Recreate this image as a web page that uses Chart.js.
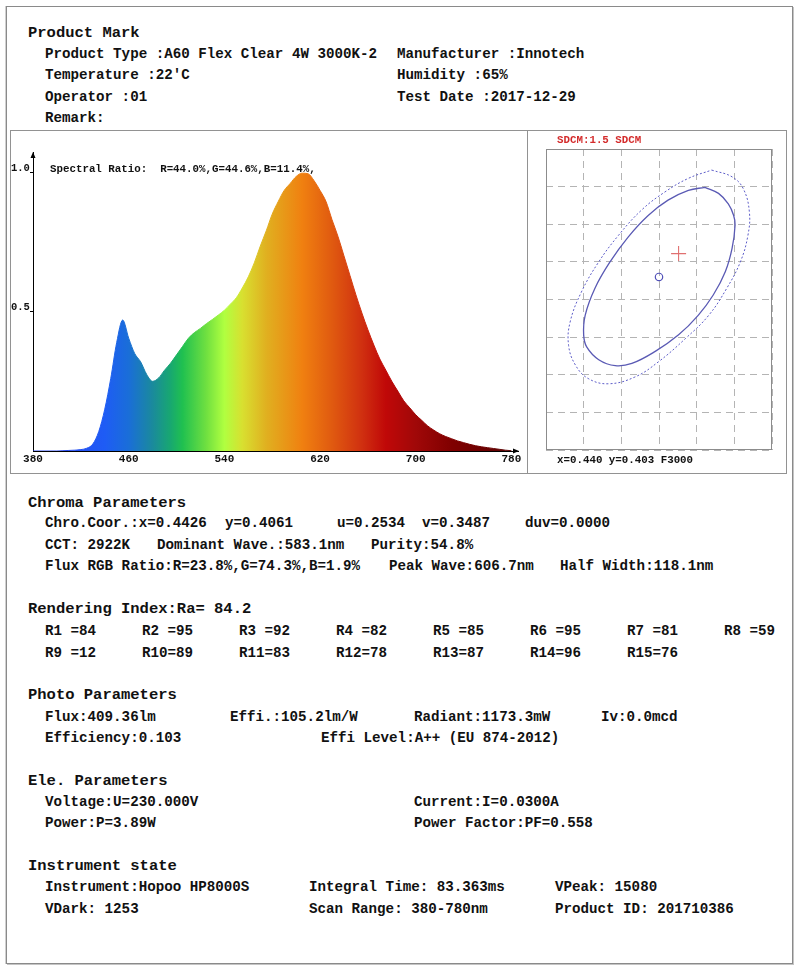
<!DOCTYPE html>
<html>
<head>
<meta charset="utf-8">
<script src="https://cdn.jsdelivr.net/npm/chart.js@4.4.0/dist/chart.umd.min.js"></script>
<style>
  html, body { margin: 0; padding: 0; background: #fff; }
  body { width: 800px; height: 971px; position: relative; overflow: hidden;
         font-family: "Liberation Mono", "DejaVu Sans Mono", monospace; font-weight: bold; color: #111; }
  .page { position: absolute; left: 6px; top: 6px; width: 785px; height: 956px;
          border: 1px solid #8a8a8a; box-shadow: 1px 1px 0 #c4c4c4, -1px 0 0 #d0d0d0; }
  .t { position: absolute; font-size: 14.2px; line-height: 16px; height: 16px; white-space: pre; }
  .h { font-size: 15.5px; }
  .s { font-size: 10.8px; line-height: 12px; height: 12px; }
  .panel { position: absolute; left: 10px; top: 130px; width: 775px; height: 342px; border: 1px solid #929292; }
  .divider { position: absolute; left: 527px; top: 130px; width: 1px; height: 343px; background: #929292; }
  #spectrum { position: absolute; left: 11px; top: 131px; }
  #sdcm { position: absolute; left: 528px; top: 132px; }
</style>
</head>
<body>
<div class="page"></div>
<div class="panel"></div>
<div class="divider"></div>
<div id="spectrum-wrap"><canvas id="spectrum" width="515" height="340" style="width:515px;height:340px"></canvas></div>
<div id="sdcm-wrap"><canvas id="sdcm" width="256" height="339" style="width:256px;height:339px"></canvas></div>
<div id="texts"></div>
<script>
// spectrum (relative intensity)
const wavelengths = [380, 385, 390, 395, 400, 405, 410, 415, 420, 425, 430, 435, 440, 445, 450, 455,
  460, 465, 470, 475, 480, 485, 490, 495, 500, 505, 510, 515, 520, 525, 530, 535, 540, 545, 550,
  555, 560, 565, 570, 575, 580, 585, 590, 595, 600, 605, 610, 615, 620, 625, 630, 635, 640, 645,
  650, 655, 660, 665, 670, 675, 680, 685, 690, 695, 700, 705, 710, 715, 720, 725, 730, 735, 740,
  745, 750, 755, 760, 765, 770, 775, 780];
const intensity = [0, 0, 0, 0, 0, 0.001, 0.002, 0.003, 0.005, 0.01, 0.025, 0.07, 0.15, 0.26, 0.39, 0.47,
  0.405, 0.35, 0.32, 0.275, 0.25, 0.262, 0.29, 0.315, 0.345, 0.375, 0.405, 0.425, 0.44, 0.457, 0.472,
  0.488, 0.505, 0.527, 0.55, 0.585, 0.625, 0.675, 0.735, 0.79, 0.85, 0.895, 0.935, 0.96, 0.985, 0.997,
  0.995, 0.97, 0.935, 0.895, 0.83, 0.77, 0.7, 0.63, 0.56, 0.495, 0.435, 0.38, 0.33, 0.29, 0.25, 0.215,
  0.18, 0.155, 0.13, 0.11, 0.09, 0.075, 0.062, 0.052, 0.044, 0.036, 0.03, 0.024, 0.019, 0.015, 0.012,
  0.009, 0.006, 0.003, 0.001];
const xTicks = [380, 460, 540, 620, 700, 780];
const yTicks = [0.5, 1.0];

// SDCM plot (CIE x, y)
const gridX = [0.425, 0.430, 0.435, 0.440, 0.445, 0.450, 0.455];
const gridY = [0.380, 0.385, 0.390, 0.395, 0.400, 0.405, 0.410, 0.415, 0.420];
const innerEllX = [0.4461, 0.4479, 0.4492, 0.4499, 0.4501, 0.4497, 0.4488, 0.4472, 0.4452, 0.4426, 0.4395, 0.4364,
  0.4342, 0.4320, 0.4304, 0.4300, 0.4302, 0.4315, 0.4335, 0.4359, 0.4386, 0.4412, 0.4439, 0.4461];
const innerEllY = [0.4149, 0.4141, 0.4127, 0.4112, 0.4099, 0.4068, 0.4037, 0.4006, 0.3979, 0.3953, 0.3931, 0.3915,
  0.3912, 0.3920, 0.3937, 0.3953, 0.3979, 0.4015, 0.4050, 0.4083, 0.4112, 0.4132, 0.4145, 0.4149];
const outerEllX = [0.4470, 0.4497, 0.4512, 0.4520, 0.4518, 0.4508, 0.4490, 0.4466, 0.4435, 0.4399, 0.4368, 0.4333,
  0.4306, 0.4289, 0.4280, 0.4282, 0.4297, 0.4320, 0.4346, 0.4377, 0.4408, 0.4439, 0.4470];
const outerEllY = [0.4172, 0.4163, 0.4147, 0.4116, 0.4085, 0.4050, 0.4015, 0.3979, 0.3948, 0.3917, 0.3897, 0.3888,
  0.3895, 0.3913, 0.3939, 0.3970, 0.4010, 0.4050, 0.4085, 0.4119, 0.4143, 0.4161, 0.4172];
const centerPoint = [0.440, 0.403];
const measuredPoint = [0.4426, 0.4061];

const renderIndex = [84, 95, 92, 82, 85, 95, 81, 59, 12, 89, 83, 78, 87, 96, 76];

// spectrum colours by wavelength
const gradStops = [400, 440, 460, 480, 495, 505, 525, 540, 555, 575, 605, 630, 655, 675, 700, 730, 760, 780];
const gradColors = ["#2a48f0", "#1e5cf5", "#1a6ed8", "#1a8a9c", "#18a870", "#20c050", "#70e040", "#b0ff40",
  "#d8e030", "#e0b020", "#f08010", "#e05a10", "#d03010", "#c00808", "#a00808", "#800000", "#6a0000", "#5a0a0a"];

const mono = "'Liberation Mono', 'DejaVu Sans Mono', monospace";

// ---- text blocks ----
const texts = [
  [28, 33, "Product Mark", "h"],
  [45, 54, "Product Type :A60 Flex Clear 4W 3000K-2"],
  [397, 54, "Manufacturer :Innotech"],
  [45, 75, "Temperature :22'C"],
  [397, 75, "Humidity :65%"],
  [45, 97, "Operator :01"],
  [397, 97, "Test Date :2017-12-29"],
  [45, 118, "Remark:"],
  [50, 169, "Spectral Ratio:  R=44.0%,G=44.6%,B=11.4%,", "s"],
  [557, 140, "SDCM:1.5 SDCM", "s red"],
  [557, 460, "x=0.440 y=0.403 F3000", "s"],
  [28, 503, "Chroma Parameters", "h"],
  [45, 523, "Chro.Coor.:x=0.4426"],
  [225, 523, "y=0.4061"],
  [337, 523, "u=0.2534"],
  [422, 523, "v=0.3487"],
  [525, 523, "duv=0.0000"],
  [45, 545, "CCT: 2922K"],
  [157, 545, "Dominant Wave.:583.1nm"],
  [371, 545, "Purity:54.8%"],
  [45, 566, "Flux RGB Ratio:R=23.8%,G=74.3%,B=1.9%"],
  [389, 566, "Peak Wave:606.7nm"],
  [560, 566, "Half Width:118.1nm"],
  [28, 609, "Rendering Index:Ra= 84.2", "h"],
  [28, 695, "Photo Parameters", "h"],
  [45, 717, "Flux:409.36lm"],
  [230, 717, "Effi.:105.2lm/W"],
  [414, 717, "Radiant:1173.3mW"],
  [601, 717, "Iv:0.0mcd"],
  [45, 738, "Efficiency:0.103"],
  [321, 738, "Effi Level:A++ (EU 874-2012)"],
  [28, 781, "Ele. Parameters", "h"],
  [45, 802, "Voltage:U=230.000V"],
  [414, 802, "Current:I=0.0300A"],
  [45, 823, "Power:P=3.89W"],
  [414, 823, "Power Factor:PF=0.558"],
  [28, 866, "Instrument state", "h"],
  [45, 887, "Instrument:Hopoo HP8000S"],
  [309, 887, "Integral Time: 83.363ms"],
  [555, 887, "VPeak: 15080"],
  [45, 909, "VDark: 1253"],
  [309, 909, "Scan Range: 380-780nm"],
  [555, 909, "Product ID: 201710386"]
];
renderIndex.forEach((v, i) => {
  const name = "R" + (i + 1);
  const label = (name.length < 3 ? name + " " : name) + "=" + v;
  texts.push([45 + 97 * (i % 8), i < 8 ? 631 : 653, label]);
});

const holder = document.getElementById("texts");
texts.forEach(([x, y, str, cls]) => {
  const d = document.createElement("div");
  d.className = "t " + (cls || "");
  d.textContent = str;
  const h = (cls || "").includes("s") ? 12 : 16;
  d.style.left = x + "px";
  d.style.top = (y - h / 2) + "px";
  if ((cls || "").includes("red")) d.style.color = "#d42c2c";
  holder.appendChild(d);
});

// ---- spectrum chart ----
const axisArrows = {
  id: "axisArrows",
  afterDraw(chart) {
    const { ctx, chartArea: a } = chart;
    ctx.save();
    ctx.fillStyle = "#000";
    ctx.beginPath();
    ctx.moveTo(a.left, a.top);
    ctx.lineTo(a.left - 2.5, a.top + 6);
    ctx.lineTo(a.left + 2.5, a.top + 6);
    ctx.fill();
    ctx.beginPath();
    ctx.moveTo(a.right + 1, a.bottom);
    ctx.lineTo(a.right - 5, a.bottom - 2.5);
    ctx.lineTo(a.right - 5, a.bottom + 2.5);
    ctx.fill();
    ctx.restore();
  }
};

function spectrumFill(context) {
  const chart = context.chart;
  const { ctx, chartArea, scales } = chart;
  if (!chartArea) return "#f08010";
  const x0 = scales.x.getPixelForValue(380);
  const x1 = scales.x.getPixelForValue(780);
  const g = ctx.createLinearGradient(x0, 0, x1, 0);
  gradStops.forEach((w, i) => g.addColorStop((w - 380) / 400, gradColors[i]));
  return g;
}

new Chart(document.getElementById("spectrum"), {
  type: "line",
  data: {
    datasets: [{
      data: wavelengths.map((w, i) => ({ x: w, y: intensity[i] })),
      fill: "origin",
      backgroundColor: spectrumFill,
      borderColor: spectrumFill,
      borderWidth: 1,
      pointRadius: 0,
      tension: 0.4,
      cubicInterpolationMode: "monotone"
    }]
  },
  options: {
    responsive: false,
    animation: false,
    devicePixelRatio: 1,
    layout: { padding: { top: 21, right: 8, left: 0, bottom: 0 } },
    plugins: { legend: { display: false }, tooltip: { enabled: false } },
    scales: {
      x: {
        type: "linear",
        min: 380,
        max: 785.5,
        afterBuildTicks: s => { s.ticks = xTicks.map(v => ({ value: v })); },
        afterFit: s => { s.height = 20; },
        grid: { display: true, drawOnChartArea: false, drawTicks: false },
        border: { color: "#000", width: 1 },
        ticks: { color: "#111", padding: 2, maxRotation: 0, font: { family: mono, size: 11, weight: "bold" } }
      },
      y: {
        min: 0,
        max: 1.073,
        afterBuildTicks: s => { s.ticks = yTicks.map(v => ({ value: v })); },
        afterFit: s => { s.width = 22; },
        grid: { drawOnChartArea: false, drawTicks: true, tickLength: 3, color: "#000" },
        border: { color: "#000", width: 1 },
        ticks: {
          color: "#111", crossAlign: "far", padding: 0, labelOffset: -4,
          font: { family: mono, size: 10.5, weight: "bold" },
          callback: v => v.toFixed(1)
        }
      }
    }
  },
  plugins: [axisArrows]
});

// ---- SDCM chart ----
const plotFrame = {
  id: "plotFrame",
  afterDraw(chart) {
    const { ctx, chartArea: a } = chart;
    ctx.save();
    ctx.strokeStyle = "#8c8c8c";
    ctx.lineWidth = 1;
    ctx.strokeRect(Math.round(a.left) + 0.5, Math.round(a.top) + 0.5,
      Math.round(a.right - a.left) - 1, Math.round(a.bottom - a.top) - 1);
    ctx.restore();
  }
};

const ellipseStyle = { showLine: true, pointRadius: 0, tension: 0.4, fill: false };

new Chart(document.getElementById("sdcm"), {
  type: "scatter",
  data: {
    datasets: [
      Object.assign({
        data: outerEllX.map((x, i) => ({ x, y: outerEllY[i] })),
        borderColor: "#5c5cc8", borderWidth: 1, borderDash: [2, 2]
      }, ellipseStyle),
      Object.assign({
        data: innerEllX.map((x, i) => ({ x, y: innerEllY[i] })),
        borderColor: "#5a5ab4", borderWidth: 1.3
      }, ellipseStyle),
      {
        data: [{ x: centerPoint[0], y: centerPoint[1] }],
        pointStyle: "circle", pointRadius: 3.7, borderColor: "#5050b8", borderWidth: 1.2,
        backgroundColor: "rgba(0,0,0,0)"
      },
      {
        data: [{ x: measuredPoint[0], y: measuredPoint[1] }],
        pointStyle: "cross", pointRadius: 7.5, borderColor: "#e07070", borderWidth: 1.1
      }
    ]
  },
  options: {
    responsive: false,
    animation: false,
    devicePixelRatio: 1,
    layout: { padding: { left: 18, top: 17, right: 12, bottom: 21 } },
    plugins: { legend: { display: false }, tooltip: { enabled: false } },
    scales: {
      x: {
        type: "linear", min: 0.425, max: 0.455,
        afterBuildTicks: s => { s.ticks = gridX.map(v => ({ value: v })); },
        afterFit: s => { s.height = 0; },
        ticks: { display: false },
        grid: { color: "#b4b4b4", drawTicks: false, lineWidth: 1 },
        border: { display: false, dash: [7, 5] }
      },
      y: {
        type: "linear", min: 0.38, max: 0.42,
        afterBuildTicks: s => { s.ticks = gridY.map(v => ({ value: v })); },
        afterFit: s => { s.width = 0; },
        ticks: { display: false },
        grid: { color: "#b4b4b4", drawTicks: false, lineWidth: 1 },
        border: { display: false, dash: [7, 5] }
      }
    }
  },
  plugins: [plotFrame]
});
</script>
</body>
</html>
